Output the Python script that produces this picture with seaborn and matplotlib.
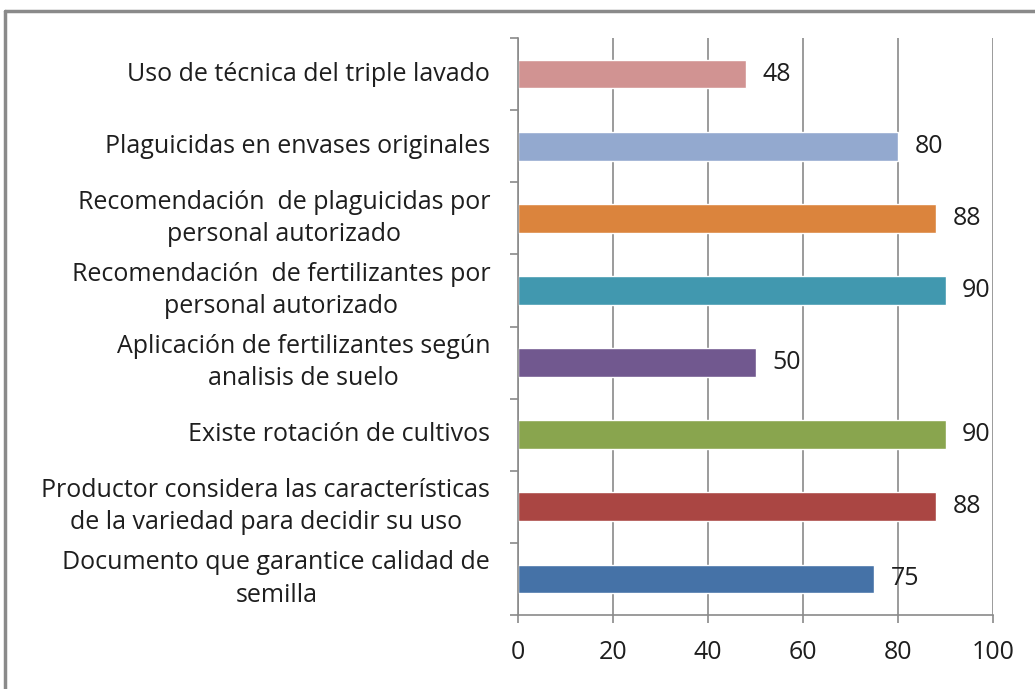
import matplotlib
matplotlib.use("Agg")
import matplotlib.pyplot as plt
import numpy as np
import pandas as pd
import seaborn as sns

# categories listed top to bottom as in the chart
categorias = [
    "Uso de técnica del triple lavado",
    "Plaguicidas en envases originales",
    "Recomendación  de plaguicidas por\npersonal autorizado",
    "Recomendación  de fertilizantes por\npersonal autorizado",
    "Aplicación de fertilizantes según\nanalisis de suelo",
    "Existe rotación de cultivos",
    "Productor considera las características\nde la variedad para decidir su uso",
    "Documento que garantice calidad de\nsemilla",
]
valores = [48, 80, 88, 90, 50, 90, 88, 75]
colores = ["#D19392", "#93A9CF", "#DB843D", "#4198AF",
           "#71588F", "#89A54E", "#AA4643", "#4572A7"]
xticks = [0, 20, 40, 60, 80, 100]

df = pd.DataFrame({"categoria": categorias, "valor": valores})

sns.set_style("white")
plt.rcParams["font.family"] = ["Open Sans", "DejaVu Sans"]
gris = "#8a8a8a"
fs = 18

fig = plt.figure(figsize=(10.35, 6.89), dpi=100)
ax = fig.add_axes([518 / 1035, 1 - 615 / 689, (993 - 518) / 1035, (615 - 38) / 689])

sns.barplot(data=df, x="valor", y="categoria", hue="categoria",
            palette=colores, orient="h", width=0.4, legend=False,
            saturation=1, ax=ax)

ax.set_xlim(0, 100)
ax.set_ylim(len(categorias) - 0.5, -0.5)
ax.set_xlabel("")
ax.set_ylabel("")

# x axis
ax.set_xticks(xticks)
ax.set_xticklabels([str(t) for t in xticks])
ax.tick_params(axis="x", direction="out", length=6, width=1.2, color=gris,
               pad=12, labelsize=fs, labelcolor="#1e1e1e", bottom=True)
ax.grid(axis="x", color=gris, linewidth=1.2)
ax.grid(axis="y", visible=False)
ax.set_axisbelow(True)

# y axis: ticks between categories, labels at centres
pos = np.arange(len(categorias))
ax.set_yticks(np.arange(-0.5, len(categorias)), [""] * (len(categorias) + 1))
ax.set_yticks(pos, categorias, minor=True)
ax.tick_params(axis="y", which="major", direction="out", length=6, width=1.2,
               color=gris, left=True)
ax.tick_params(axis="y", which="minor", length=0, pad=20, labelsize=fs,
               labelcolor="#1e1e1e")
for lab in ax.get_yticklabels(minor=True):
    lab.set_multialignment("center")
    lab.set_linespacing(1.38)
    lab.set_verticalalignment("center")

for s in ["top", "right"]:
    ax.spines[s].set_visible(False)
for s in ["left", "bottom"]:
    ax.spines[s].set_color(gris)
    ax.spines[s].set_linewidth(1.2)

for i, v in enumerate(valores):
    ax.annotate(str(v), xy=(v, i), xytext=(12, 0), textcoords="offset points",
                va="center", ha="left", fontsize=fs, color="#1e1e1e")

# outer frame (cut at right and bottom in the original)
fig.add_artist(plt.Line2D([5 / 1035, 1.0], [1 - 11 / 689, 1 - 11 / 689],
                          color=gris, linewidth=2.5, transform=fig.transFigure))
fig.add_artist(plt.Line2D([5 / 1035, 5 / 1035], [0.0, 1 - 11 / 689],
                          color=gris, linewidth=2.5, transform=fig.transFigure))

fig.savefig("out.png", dpi=100, facecolor="white")
